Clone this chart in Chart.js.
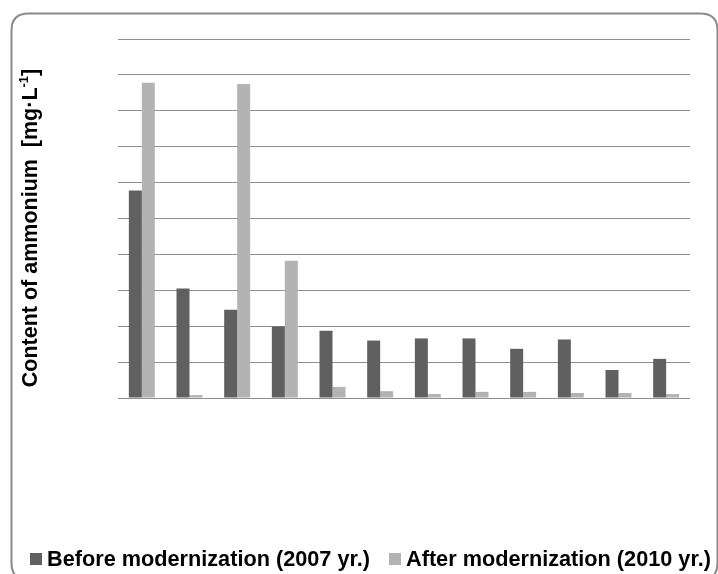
<!DOCTYPE html>
<html>
<head>
<meta charset="utf-8">
<script src="https://cdn.jsdelivr.net/npm/chart.js@4/dist/chart.umd.min.js"></script>
<style>
html,body{margin:0;padding:0;background:#fff;}
canvas{display:block;}
</style>
</head>
<body>
<canvas id="c" width="718" height="574"></canvas>
<script>
const categories = ['1','2','3','4','5','6','7','8','9','10','11','12'];
const beforeValues = [5.78, 3.05, 2.46, 1.99, 1.87, 1.60, 1.66, 1.66, 1.37, 1.63, 0.78, 1.09];
const afterValues  = [8.78, 0.08, 8.75, 3.82, 0.31, 0.19, 0.11, 0.17, 0.17, 0.14, 0.14, 0.11];
const seriesLabels = ['Before modernization (2007 yr.)', 'After modernization (2010 yr.)'];
const yTitleMain = 'Content of ammonium  [mg\u00B7L';
const yTitleSup = '-1';
const yTitleEnd = ']';

const FONT = "'Liberation Sans', Arial, sans-serif";

const decor = {
  id: 'decor',
  beforeDraw(chart) {
    const ctx = chart.ctx;
    ctx.save();
    ctx.fillStyle = '#ffffff';
    ctx.fillRect(0, 0, chart.width, chart.height);
    const x = 11.5, y = 13.5, w = 717.5 - 11.5, h = 580 - 13.5, r = 17;
    ctx.beginPath();
    ctx.moveTo(x + r, y);
    ctx.lineTo(x + w - r, y);
    ctx.quadraticCurveTo(x + w, y, x + w, y + r);
    ctx.lineTo(x + w, y + h - r);
    ctx.quadraticCurveTo(x + w, y + h, x + w - r, y + h);
    ctx.lineTo(x + r, y + h);
    ctx.quadraticCurveTo(x, y + h, x, y + h - r);
    ctx.lineTo(x, y + r);
    ctx.quadraticCurveTo(x, y, x + r, y);
    ctx.closePath();
    ctx.strokeStyle = '#8a8a8a';
    ctx.lineWidth = 2;
    ctx.stroke();
    ctx.restore();
  },
  afterDraw(chart) {
    const ctx = chart.ctx;
    ctx.save();
    const fs = 21.5;
    const mainFont = 'bold ' + fs + 'px ' + FONT;
    const supFont = 'bold ' + Math.round(fs * 0.62) + 'px ' + FONT;
    ctx.font = mainFont;
    const w1 = ctx.measureText(yTitleMain).width;
    ctx.font = supFont;
    const w2 = ctx.measureText(yTitleSup).width;
    ctx.font = mainFont;
    const w3 = ctx.measureText(yTitleEnd).width;
    const total = w1 + w2 + w3;
    ctx.translate(37, 228);
    ctx.rotate(-Math.PI / 2);
    ctx.fillStyle = '#000';
    ctx.textBaseline = 'alphabetic';
    ctx.textAlign = 'left';
    let tx = -total / 2;
    ctx.fillText(yTitleMain, tx, 0);
    tx += w1;
    ctx.font = supFont;
    ctx.fillText(yTitleSup, tx, -fs * 0.42);
    tx += w2;
    ctx.font = mainFont;
    ctx.fillText(yTitleEnd, tx, 0);
    ctx.restore();

    ctx.save();
    const lf = 21.7;
    ctx.font = 'bold ' + lf + 'px ' + FONT;
    ctx.textBaseline = 'alphabetic';
    let lx = 30;
    const baseY = 566;
    chart.data.datasets.forEach((ds) => {
      ctx.fillStyle = ds.backgroundColor;
      ctx.fillRect(lx, 553, 12, 12);
      lx += 17;
      ctx.fillStyle = '#000';
      ctx.fillText(ds.label, lx, baseY);
      lx += ctx.measureText(ds.label).width + 19;
    });
    ctx.restore();
  }
};

new Chart(document.getElementById('c'), {
  type: 'bar',
  data: {
    labels: categories,
    datasets: [
      { label: seriesLabels[0], data: beforeValues, backgroundColor: '#606060', borderWidth: 0,
        categoryPercentage: 0.545, barPercentage: 1.0 },
      { label: seriesLabels[1], data: afterValues, backgroundColor: '#b3b3b3', borderWidth: 0,
        categoryPercentage: 0.545, barPercentage: 1.0 }
    ]
  },
  options: {
    responsive: false,
    animation: false,
    layout: { padding: { left: 118, right: 28, top: 39, bottom: 176 } },
    plugins: { legend: { display: false }, tooltip: { enabled: false }, title: { display: false } },
    scales: {
      x: { display: false },
      y: {
        min: 0, max: 10,
        ticks: { display: false, stepSize: 1 },
        border: { display: false },
        grid: { color: '#8f8f8f', lineWidth: 1, drawTicks: false },
        afterFit(scale) { scale.width = 0; }
      }
    }
  },
  plugins: [decor]
});
</script>
</body>
</html>
